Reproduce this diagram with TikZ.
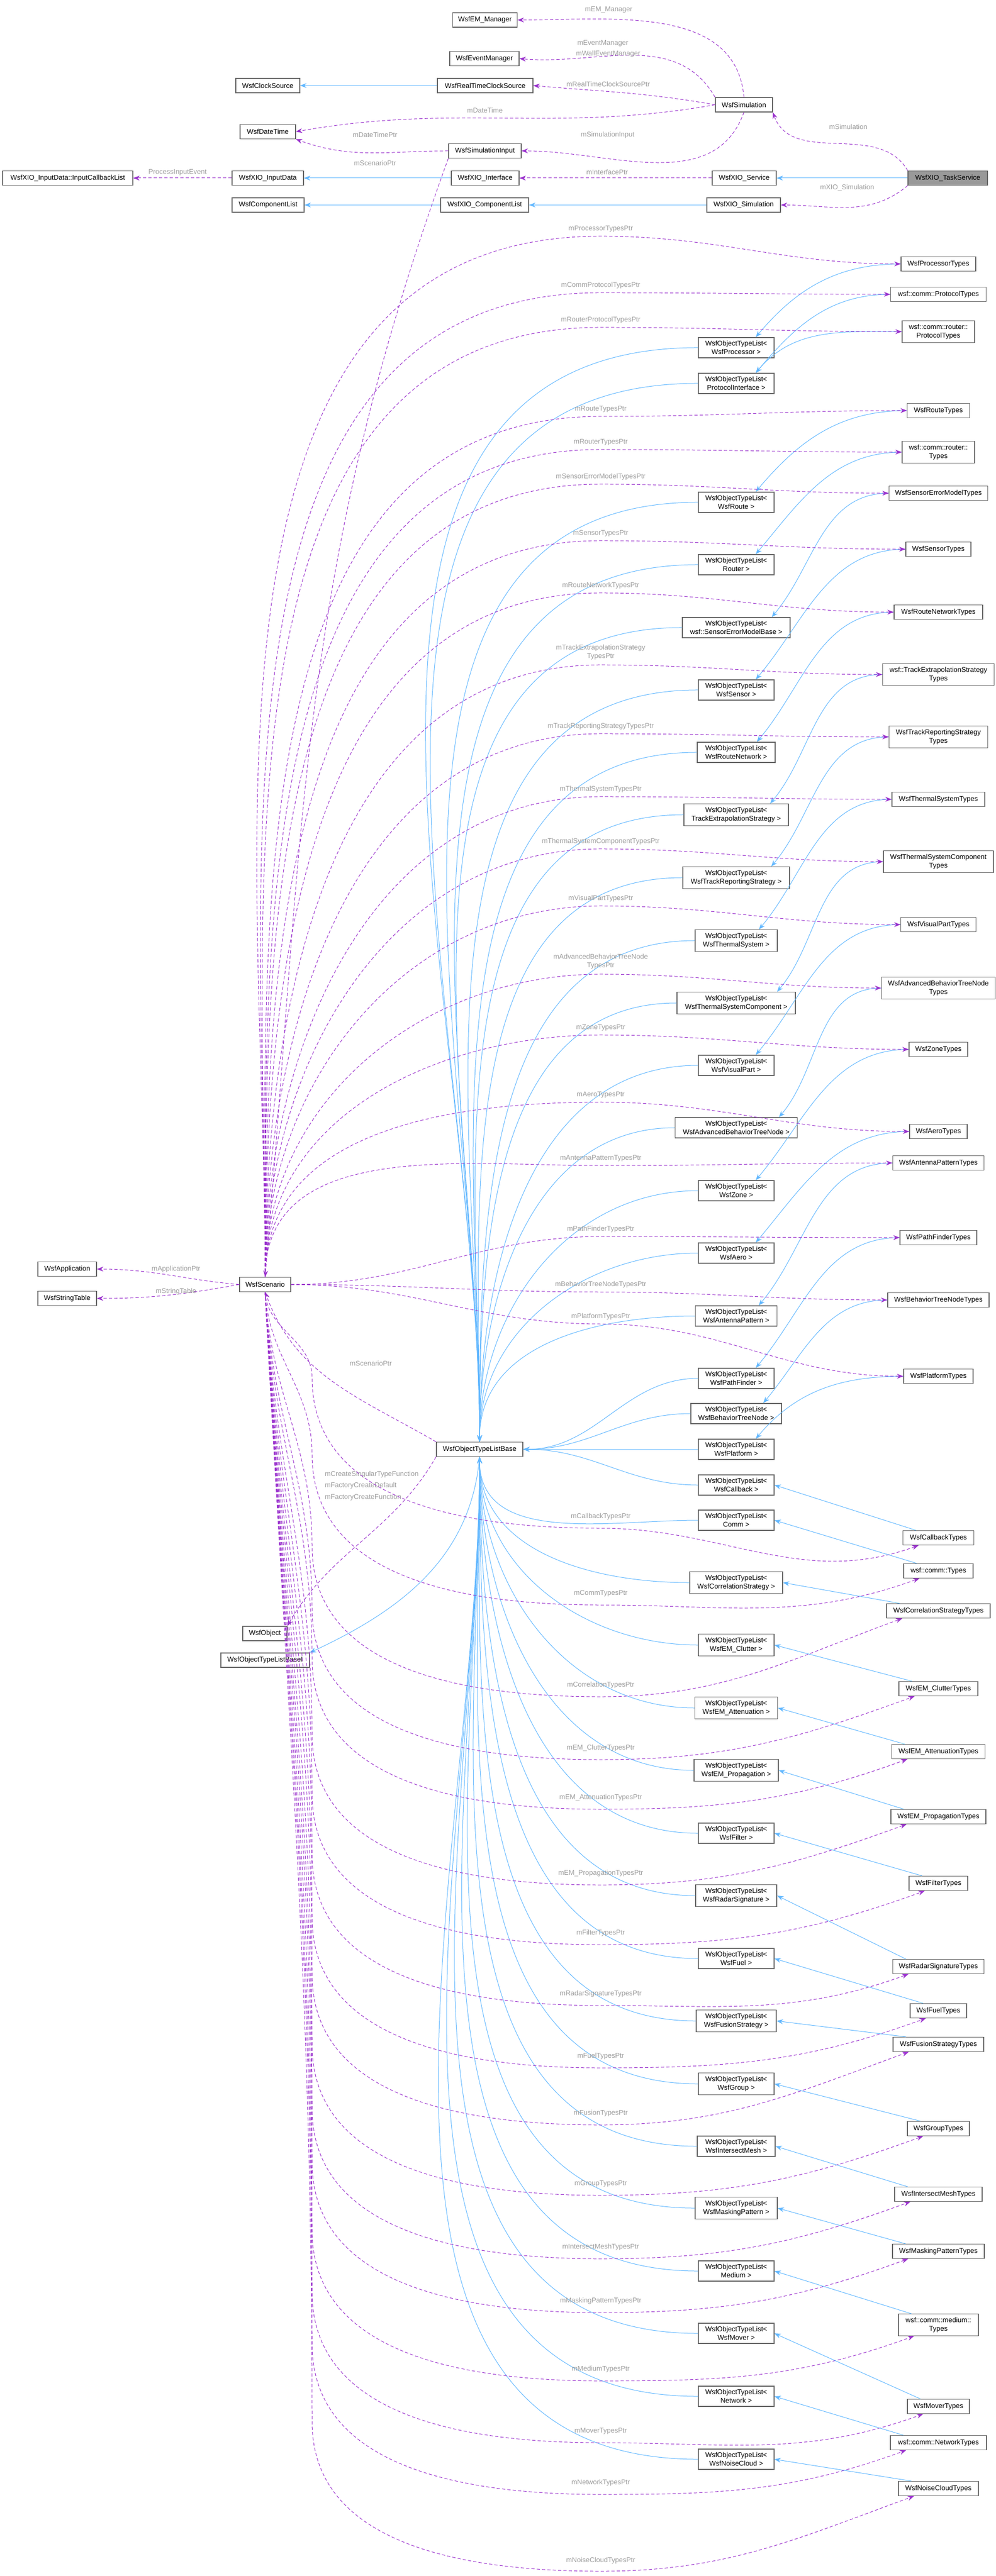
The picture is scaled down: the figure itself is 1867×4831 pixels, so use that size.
\documentclass[tikz,border=0pt]{standalone}
\usepackage{fontspec}
\setmainfont{Liberation Sans}
\usetikzlibrary{arrows.meta,calc}
\definecolor{inhc}{HTML}{63B8FF}
\definecolor{depc}{HTML}{9A32CD}
\definecolor{boxc}{HTML}{666666}
\definecolor{lblc}{HTML}{9C9C9C}
\definecolor{selc}{HTML}{999999}
\newcommand\dfs{\fontsize{1.3}{1.55}\selectfont}
\begin{document}
\begin{tikzpicture}[x=0.1pt,y=0.1pt,
 box/.style={draw=boxc,fill=white,line width=0.12pt,inner xsep=0.2pt,inner ysep=0.65pt,minimum height=2.7pt,align=center,font=\dfs},
 wd/.style={minimum width=#1*0.1},
 inh/.style={draw=inhc,line width=0.1pt,-{Stealth[length=1.2pt,width=0.9pt]}},
 dep/.style={draw=depc,line width=0.1pt,dash pattern=on 0.6pt off 0.4pt,-{Stealth[length=1.2pt,width=0.9pt]}},
 lbl/.style={text=lblc,font=\dfs,align=center,inner sep=0.1pt}]
\useasboundingbox (0,0) rectangle (1867,-4831);

% ---- top part
\node[box,wd=121] (em) at (909,-37.5) {WsfEM\_Manager};
\node[box,wd=130] (evm) at (908,-110) {WsfEventManager};
\node[box,wd=120] (clk) at (502,-160.5) {WsfClockSource};
\node[box,wd=179] (rtc) at (909.5,-160.5) {WsfRealTimeClockSource};
\node[box,wd=107] (sim) at (1394.5,-196.5) {WsfSimulation};
\node[box,wd=104] (dt) at (502,-247) {WsfDateTime};
\node[box,wd=136] (sin) at (909,-283) {WsfSimulationInput};
\node[box,wd=244] (icl) at (127,-334) {WsfXIO\_InputData::InputCallbackList};
\node[box,wd=134] (xin) at (502,-334) {WsfXIO\_InputData};
\node[box,wd=127] (xif) at (909.5,-334) {WsfXIO\_Interface};
\node[box,wd=120] (svc) at (1395,-334) {WsfXIO\_Service};
\node[box,fill=selc,wd=149] (task) at (1776.5,-334) {WsfXIO\_TaskService};
\node[box,wd=135] (cl) at (502.5,-384.5) {WsfComponentList};
\node[box,wd=165] (xcl) at (908.5,-384.5) {WsfXIO\_ComponentList};
\node[box,wd=138] (xsim) at (1394,-384.5) {WsfXIO\_Simulation};

\draw[inh] (task) -- (svc);
\draw[dep] (task.north west) to[out=120,in=-70] (sim.south east);
\node[lbl] at (1590,-238) {mSimulation};
\draw[dep] (task.south west) to[out=-140,in=0] (xsim.east);
\node[lbl] at (1588,-352) {mXIO\_Simulation};
\draw[dep] (svc) -- (xif);
\node[lbl] at (1138,-323) {mInterfacePtr};
\draw[inh] (xif) -- (xin);
\draw[dep] (xin) -- (icl);
\node[lbl] at (333,-323) {ProcessInputEvent};
\draw[inh] (xsim) -- (xcl);
\draw[inh] (xcl) -- (cl);
\draw[inh] (rtc) -- (clk);
\draw[dep] (sim.north) to[out=95,in=0] (em.east);
\node[lbl] at (1141,-18) {mEM\_Manager};
\draw[dep] (sim.north west) to[out=120,in=-5] (evm.east);
\node[lbl] at (1130,-81) {mEventManager};
\node[lbl] at (1140,-101) {mWallEventManager};
\draw[dep] (sim.west) to[out=170,in=-5] (rtc.east);
\node[lbl] at (1140,-158) {mRealTimeClockSourcePtr};
\draw[dep] (sim.west) to[out=190,in=10] (dt.east);
\node[lbl] at (909,-207) {mDateTime};
\draw[dep] (sim.south) to[out=-110,in=0] (sin.east);
\node[lbl] at (1139,-253) {mSimulationInput};
\draw[dep] (sin.west) to[out=180,in=-20] (dt.south east);
\node[lbl] at (703,-253) {mDateTimePtr};

% ---- left part
\node[box,wd=96] (scen) at (497,-2409) {WsfScenario};
\node[box,wd=110] (app) at (126,-2380) {WsfApplication};
\node[box,wd=110] (str) at (126,-2435) {WsfStringTable};
\node[box,wd=162] (base) at (899,-2718) {WsfObjectTypeListBase};
\node[box,wd=83] (obj) at (496.5,-3063.5) {WsfObject};
\node[box,wd=166] (basei) at (497,-3113.5) {WsfObjectTypeListBaseI};

\draw[dep] (sin.south west) to[out=-110,in=85] (scen.north);
\node[lbl] at (703,-306) {mScenarioPtr};
\draw[dep] (scen.west) to[out=175,in=0] (app.east);
\node[lbl] at (330,-2380) {mApplicationPtr};
\draw[dep] (scen.west) to[out=190,in=0] (str.east);
\node[lbl] at (330,-2422) {mStringTable};
\draw[dep] (base.north west) to[out=150,in=-70] (scen.south);
\node[lbl] at (695,-2557) {mScenarioPtr};
\draw[dep] (base.south west) to[out=-120,in=60] (obj.north east);
\node[lbl,anchor=west] at (606,-2765) {mCreateSingularTypeFunction};
\node[lbl,anchor=west] at (606,-2786) {mFactoryCreateDefault};
\node[lbl,anchor=west] at (606,-2808) {mFactoryCreateFunction};
\draw[inh] (base.south) to[out=-95,in=25] (basei.north east);

% ---- object type lists
\foreach \nm/\cy/\w/\tx/\md in {
 oProc/652/142/WsfProcessor/1, oProt/719/142/ProtocolInterface/1,
 oRoute/942/142/WsfRoute/1, oRouter/1059/142/Router/1,
 oSEM/1177/202/wsf::SensorErrorModelBase/1, oSensor/1294/142/WsfSensor/1,
 oRN/1411/146/WsfRouteNetwork/1, oTES/1528/196/TrackExtrapolationStrategy/1,
 oTRS/1646/200/WsfTrackReportingStrategy/1, oTS/1764/154/WsfThermalSystem/1,
 oTSC/1881/222/WsfThermalSystemComponent/1, oVP/1998/142/WsfVisualPart/1,
 oABT/2115/229/WsfAdvancedBehaviorTreeNode/1, oZone/2233/142/WsfZone/1,
 oAero/2350/142/WsfAero/1, oAP/2468/153/WsfAntennaPattern/1,
 oPF/2585/142/WsfPathFinder/2, oBT/2651/170/WsfBehaviorTreeNode/2,
 oPlat/2718/142/WsfPlatform/2, oCb/2785/142/WsfCallback/2,
 oComm/2851/142/Comm/3, oCorr/2968/174/WsfCorrelationStrategy/3,
 oClut/3085/142/WsfEM\_Clutter/3, oAtt/3203/155/WsfEM\_Attenuation/3,
 oProp/3320/158/WsfEM\_Propagation/3, oFilt/3438/142/WsfFilter/3,
 oRad/3555/152/WsfRadarSignature/3, oFuel/3673/142/WsfFuel/3,
 oFus/3790/150/WsfFusionStrategy/3, oGrp/3908/142/WsfGroup/3,
 oIM/4025/146/WsfIntersectMesh/3, oMP/4141/154/WsfMaskingPattern/3,
 oMed/4259/142/Medium/3, oMov/4376/142/WsfMover/3,
 oNet/4494/142/Network/3, oNC/4612/142/WsfNoiseCloud/3} {
 \node[box,wd=\w] (\nm) at (1380,-\cy) {WsfObjectTypeList<\\\tx\ >};
 \ifcase\md\or
  \draw[inh] (\nm.west) to[out=180,in=90] (base.north);
 \or
  \draw[inh] (\nm.west) to[out=180,in=0] (base.east);
 \or
  \draw[inh] (\nm.west) to[out=180,in=-90] (base.south);
 \fi
}

% ---- type collections
\foreach \nm/\cy/\w/\tx/\ot/\lab/\ly/\lo/\dm/\bm in {
 tProc/495/140/WsfProcessorTypes/oProc/mProcessorTypesPtr/429/14/1/1,
 tCP/552/179/wsf::comm::ProtocolTypes/oProt/mCommProtocolTypesPtr/535/14/1/1,
 tRP/622/136/{wsf::comm::router::\\ProtocolTypes}/oProt/mRouterProtocolTypesPtr/600/14/1/1,
 tRoute/770/117/WsfRouteTypes/oRoute/mRouteTypesPtr/767/14/1/1,
 tRouter/848/136/{wsf::comm::router::\\Types}/oRouter/mRouterTypesPtr/829/14/1/1,
 tSEM/925/185/WsfSensorErrorModelTypes/oSEM/mSensorErrorModelTypesPtr/894/14/1/1,
 tSensor/1030/122/WsfSensorTypes/oSensor/mSensorTypesPtr/1000/14/1/1,
 tRN/1148/166/WsfRouteNetworkTypes/oRN/mRouteNetworkTypesPtr/1098/14/1/1,
 tTES/1265/209/{wsf::TrackExtrapolationStrategy\\Types}/oTES/{mTrackExtrapolationStrategy\\TypesPtr}/1223/24/1/1,
 tTRS/1382/185/{WsfTrackReportingStrategy\\Types}/oTRS/mTrackReportingStrategyTypesPtr/1362/14/1/1,
 tTS/1499/174/WsfThermalSystemTypes/oTS/mThermalSystemTypesPtr/1480/14/1/1,
 tTSC/1616/206/{WsfThermalSystemComponent\\Types}/oTSC/mThermalSystemComponentTypesPtr/1578/14/1/1,
 tVP/1734/141/WsfVisualPartTypes/oVP/mVisualPartTypesPtr/1685/14/1/1,
 tABT/1853/213/{WsfAdvancedBehaviorTreeNode\\Types}/oABT/{mAdvancedBehaviorTreeNode\\TypesPtr}/1803/24/1/1,
 tZone/1968/110/WsfZoneTypes/oZone/mZoneTypesPtr/1927/14/1/1,
 tAero/2122/108/WsfAeroTypes/oAero/mAeroTypesPtr/2053/14/1/1,
 tAP/2181/171/WsfAntennaPatternTypes/oAP/mAntennaPatternTypesPtr/2172/14/1/1,
 tPF/2321/144/WsfPathFinderTypes/oPF/mPathFinderTypesPtr/2305/14/2/1,
 tBT/2438/190/WsfBehaviorTreeNodeTypes/oBT/mBehaviorTreeNodeTypesPtr/2409/14/2/1,
 tPlat/2581/130/WsfPlatformTypes/oPlat/mPlatformTypesPtr/2469/14/2/1,
 tCb/2884/133/WsfCallbackTypes/oCb/mCallbackTypesPtr/2844/22/3/2,
 tComm/2946/130/wsf::comm::Types/oComm/mCommTypesPtr/2988/22/3/2,
 tCorr/3021/194/WsfCorrelationStrategyTypes/oCorr/mCorrelationTypesPtr/3160/22/3/2,
 tClut/3167/148/WsfEM\_ClutterTypes/oClut/mEM\_ClutterTypesPtr/3278/22/3/2,
 tAtt/3285/175/WsfEM\_AttenuationTypes/oAtt/mEM\_AttenuationTypesPtr/3371/22/3/2,
 tProp/3407/178/WsfEM\_PropagationTypes/oProp/mEM\_PropagationTypesPtr/3513/22/3/2,
 tFilt/3532/110/WsfFilterTypes/oFilt/mFilterTypesPtr/3625/22/3/2,
 tRad/3688/171/WsfRadarSignatureTypes/oRad/mRadarSignatureTypesPtr/3739/22/3/2,
 tFuel/3771/106/WsfFuelTypes/oFuel/mFuelTypesPtr/3856/22/3/2,
 tFus/3834/170/WsfFusionStrategyTypes/oFus/mFusionTypesPtr/3963/22/3/2,
 tGrp/3992/116/WsfGroupTypes/oGrp/mGroupTypesPtr/4095/22/3/2,
 tIM/4115/164/WsfIntersectMeshTypes/oIM/mIntersectMeshTypesPtr/4214/22/3/2,
 tMP/4222/172/WsfMaskingPatternTypes/oMP/mMaskingPatternTypesPtr/4315/22/3/2,
 tMed/4360/150/{wsf::comm::medium::\\Types}/oMed/mMediumTypesPtr/4443/22/3/2,
 tMov/4513/116/WsfMoverTypes/oMov/mMoverTypesPtr/4559/22/3/2,
 tNet/4581/180/wsf::comm::NetworkTypes/oNet/mNetworkTypesPtr/4656/22/3/2,
 tNC/4667/150/WsfNoiseCloudTypes/oNC/mNoiseCloudTypesPtr/4802/20/3/2} {
 \node[box,wd=\w] (\nm) at (1759,-\cy) {\tx};
 \ifnum\bm=1
  \draw[inh] (\nm.west) to[out=180,in=50] ($(\ot.north east)+(-35,0)$);
 \else
  \draw[inh] ($(\nm.north west)+(25,0)$) -- (\ot.east);
 \fi
 \ifcase\dm\or
  \draw[dep] (scen.north) to[out=90,in=180] (1126,-\ly-\lo) to[out=0,in=180] (\nm.west);
 \or
  \draw[dep] (scen.east) to[out=0,in=180] (1126,-\ly-\lo) to[out=0,in=180] (\nm.west);
 \or
  \draw[dep] (scen.south) to[out=-87,in=90] (585,-\ly+260) to[out=-90,in=180] (1126,-\ly-\lo) to[out=0,in=200] ($(\nm.south west)+(30,0)$);
 \fi
 \node[lbl] at (1126,-\ly) {\lab};
}
\end{tikzpicture}
\end{document}
